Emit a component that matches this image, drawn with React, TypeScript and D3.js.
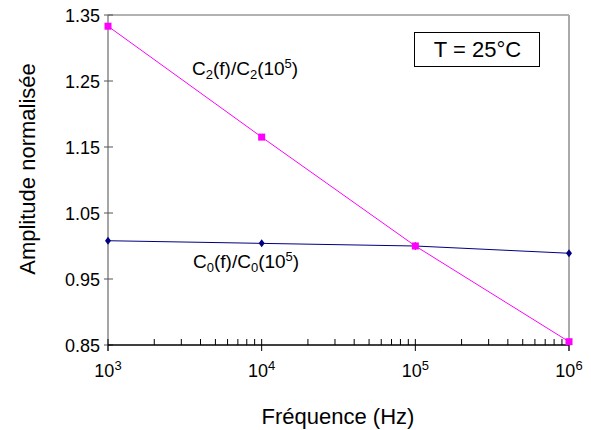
import React from "react";
import * as d3 from "d3";

const freqs = [1e3, 1e4, 1e5, 1e6];
const c2Values = [1.333, 1.165, 1.0, 0.855];
const c0Values = [1.008, 1.004, 1.0, 0.989];
const yTicks = [0.85, 0.95, 1.05, 1.15, 1.25, 1.35];
const xDecades = [3, 4, 5, 6];

const W = 591, H = 430;
const m = { left: 108, right: 569, top: 15, bottom: 345 };

export default function App() {
  const x = d3.scaleLog().domain([1e3, 1e6]).range([m.left, m.right]);
  const y = d3.scaleLinear().domain([0.85, 1.35]).range([m.bottom, m.top]);
  const line = d3.line<number>().x((_, i) => x(freqs[i])).y((d) => y(d));
  const minor: number[] = [];
  for (let e = 3; e < 6; e++) for (let k = 2; k <= 9; k++) minor.push(k * Math.pow(10, e));
  const font = "Liberation Sans, Arial, sans-serif";
  return (
    <svg width={W} height={H} style={{ position: "absolute", left: 0, top: 0 }} fontFamily={font}>
      <rect x={0} y={0} width={W} height={H} fill="#fff" />
      {/* frame */}
      <line x1={m.left} x2={m.right} y1={m.top} y2={m.top} stroke="#999" strokeWidth={1.5} />
      <line x1={m.right} x2={m.right} y1={m.top} y2={m.bottom + 6} stroke="#aaa" strokeWidth={2} />
      <line x1={m.left} x2={m.left} y1={m.top} y2={m.bottom + 6} stroke="#888" strokeWidth={1.5} />
      {/* y ticks */}
      {yTicks.map((t) => (
        <g key={t}>
          <line x1={m.left - 4} x2={m.left + 5} y1={y(t)} y2={y(t)} stroke="#555" strokeWidth={1} />
          <text x={m.left - 8} y={y(t)} dy="0.38em" textAnchor="end" fontSize={18} fill="#000">
            {t.toFixed(2)}
          </text>
        </g>
      ))}
      {/* x axis */}
      <line x1={m.left} x2={m.right} y1={m.bottom} y2={m.bottom} stroke="#000" strokeWidth={1.5} />
      {minor.map((f) => (
        <line key={f} x1={x(f)} x2={x(f)} y1={m.bottom} y2={m.bottom - 6} stroke="#000" strokeWidth={1} />
      ))}
      {xDecades.map((e) => (
        <g key={e}>
          <line x1={x(Math.pow(10, e))} x2={x(Math.pow(10, e))} y1={m.bottom - 6} y2={m.bottom + 6} stroke="#000" strokeWidth={1} />
          <text x={x(Math.pow(10, e))} y={m.bottom + 32} textAnchor="middle" fontSize={18} fill="#000">
            10<tspan fontSize={13} dy={-7}>{e}</tspan>
          </text>
        </g>
      ))}
      {/* lines */}
      <path d={line(c0Values) || ""} fill="none" stroke="#000080" strokeWidth={1} />
      <path d={line(c2Values) || ""} fill="none" stroke="#FF00FF" strokeWidth={1} />
      {c0Values.map((v, i) => (
        <path key={"d" + i} d="M0,-4L3,0L0,4L-3,0Z" transform={`translate(${x(freqs[i])},${y(v)})`} fill="#000080" />
      ))}
      {c2Values.map((v, i) => (
        <rect key={"s" + i} x={x(freqs[i]) - 3.5} y={y(v) - 3.5} width={7} height={7} fill="#FF00FF" />
      ))}
      {/* annotations */}
      <text x={192} y={75} fontSize={19} fill="#000">
        C<tspan fontSize={13} dy={4}>2</tspan><tspan dy={-4}>(f)/C</tspan><tspan fontSize={13} dy={4}>2</tspan><tspan dy={-4}>(10</tspan><tspan fontSize={13} dy={-7}>5</tspan><tspan dy={7}>)</tspan>
      </text>
      <text x={193} y={268} fontSize={19} fill="#000">
        C<tspan fontSize={13} dy={4}>0</tspan><tspan dy={-4}>(f)/C</tspan><tspan fontSize={13} dy={4}>0</tspan><tspan dy={-4}>(10</tspan><tspan fontSize={13} dy={-7}>5</tspan><tspan dy={7}>)</tspan>
      </text>
      <rect x={414.5} y={32.5} width={125} height={34} fill="#fff" stroke="#000" strokeWidth={1} />
      <text x={477.5} y={57} textAnchor="middle" fontSize={22} fill="#000">T = 25°C</text>
      {/* axis titles */}
      <text x={338} y={424} textAnchor="middle" fontSize={22} fill="#000">Fréquence (Hz)</text>
      <text transform={`translate(35,169) rotate(-90)`} textAnchor="middle" fontSize={22} fill="#000">
        Amplitude normalisée
      </text>
    </svg>
  );
}
